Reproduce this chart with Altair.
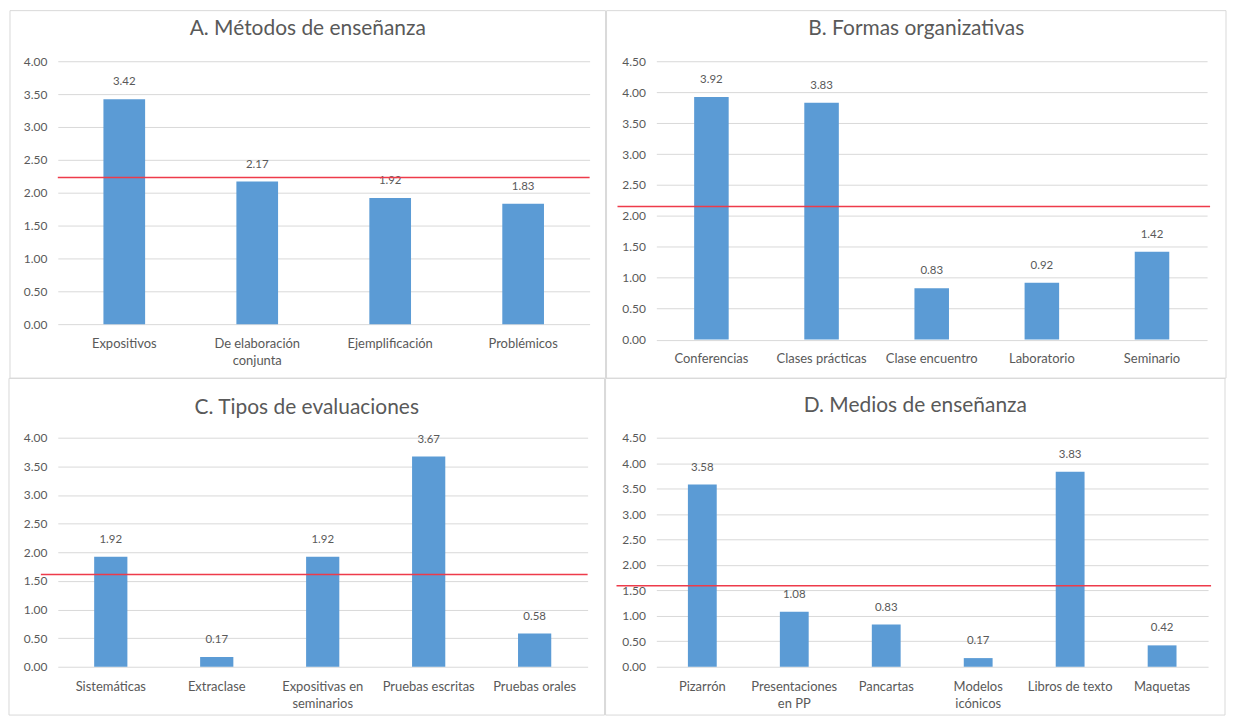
import altair as alt
import pandas as pd

FONT = "Lato"
BAR = "#5B9BD5"
TXT = "#595959"
GRID = "#d9d9d9"
RED = "#ee3b4a"

# Panel A
a_title = "A. Métodos de enseñanza"
a_cats = ["Expositivos", "De elaboración\nconjunta", "Ejemplificación", "Problémicos"]
a_vals = [3.42, 2.17, 1.92, 1.83]
a_ref = 2.23
a_ticks = [0, 0.5, 1, 1.5, 2, 2.5, 3, 3.5, 4]

# Panel B
b_title = "B. Formas organizativas"
b_cats = ["Conferencias", "Clases prácticas", "Clase encuentro", "Laboratorio", "Seminario"]
b_vals = [3.92, 3.83, 0.83, 0.92, 1.42]
b_ref = 2.15
b_ticks = [0, 0.5, 1, 1.5, 2, 2.5, 3, 3.5, 4, 4.5]

# Panel C
c_title = "C. Tipos de evaluaciones"
c_cats = ["Sistemáticas", "Extraclase", "Expositivas en\nseminarios", "Pruebas escritas", "Pruebas orales"]
c_vals = [1.92, 0.17, 1.92, 3.67, 0.58]
c_ref = 1.61
c_ticks = [0, 0.5, 1, 1.5, 2, 2.5, 3, 3.5, 4]

# Panel D
d_title = "D. Medios de enseñanza"
d_cats = ["Pizarrón", "Presentaciones\nen PP", "Pancartas", "Modelos\nicónicos", "Libros de texto", "Maquetas"]
d_vals = [3.58, 1.08, 0.83, 0.17, 3.83, 0.42]
d_ref = 1.59
d_ticks = [0, 0.5, 1, 1.5, 2, 2.5, 3, 3.5, 4, 4.5]


def panel(title, cats, vals, ref, ticks, width, height, frame, title_y, rule_x):
    df = pd.DataFrame({"cat": cats, "val": vals})
    base = alt.Chart(df)
    x = alt.X(
        "cat:N",
        sort=cats,
        scale=alt.Scale(paddingInner=0.6865, paddingOuter=0.34325),
        axis=alt.Axis(
            title=None, labelAngle=0, labelFont=FONT, labelFontSize=13,
            labelColor=TXT, labelPadding=13.5, ticks=False, tickSize=0,
            domain=False, labelExpr="split(datum.label, '\\n')",
            labelLineHeight=17, labelLimit=0,
        ),
    )
    y = alt.Y(
        "val:Q",
        scale=alt.Scale(domain=[0, ticks[-1]], nice=False, zero=True),
        axis=alt.Axis(
            title=None, values=ticks, tickCount=len(ticks), format=".2f",
            labelFont=FONT, labelFontSize=12, labelColor=TXT, labelPadding=11,
            ticks=False, tickSize=0, domain=False, gridColor=GRID, gridWidth=1,
            labelOverlap=False,
        ),
    )
    fx1, fx2, fy1, fy2 = frame
    frame_layer = alt.Chart(pd.DataFrame({"d": [0]})).mark_rect(
        filled=False, stroke=GRID, strokeWidth=1
    ).encode(
        x=alt.value(fx1), x2=alt.value(fx2), y=alt.value(fy1), y2=alt.value(fy2)
    )
    title_layer = alt.Chart(pd.DataFrame({"t": [title]})).mark_text(
        font=FONT, fontSize=21, color=TXT, align="center", baseline="middle"
    ).encode(
        text="t:N", x=alt.value((fx1 + fx2) / 2), y=alt.value(title_y)
    )
    bars = base.mark_bar(color=BAR).encode(x=x, y=y)
    labels = base.mark_text(
        dy=-17, baseline="middle", align="center", fontSize=11.5, color=TXT, font=FONT
    ).encode(x=x, y=y, text=alt.Text("val:Q", format=".2f"))
    rule = alt.Chart(pd.DataFrame({"r": [ref]})).mark_rule(
        color=RED, strokeWidth=1.5
    ).encode(y=alt.datum(ref), x=alt.value(rule_x[0]), x2=alt.value(rule_x[1]))
    return alt.layer(frame_layer, title_layer, bars, labels, rule).properties(
        width=width, height=height
    )


pa = panel(a_title, a_cats, a_vals, a_ref, a_ticks, 534, 264,
           (-48, 550, -50.8, 318.2), -32.1, (0, 534))
pb = panel(b_title, b_cats, b_vals, b_ref, b_ticks, 553, 279.5,
           (-50, 572, -50.8, 318.2), -32.1, (-39, 556))
pc = panel(c_title, c_cats, c_vals, c_ref, c_ticks, 532, 230,
           (-49, 549, -59.5, 278.5), -29.8, (-17, 532))
pd_ = panel(d_title, d_cats, d_vals, d_ref, d_ticks, 554, 230,
            (-51, 571, -59.5, 278.5), -32.2, (-40, 557))

row1 = alt.hconcat(pa, pb, spacing=-1)
row2 = alt.hconcat(pc, pd_, spacing=-1)
chart = alt.vconcat(row1, row2, spacing=-1).properties(padding=0).configure_view(
    stroke=None
)

chart.save("out.html", embed_options={"renderer": "svg", "actions": False})
